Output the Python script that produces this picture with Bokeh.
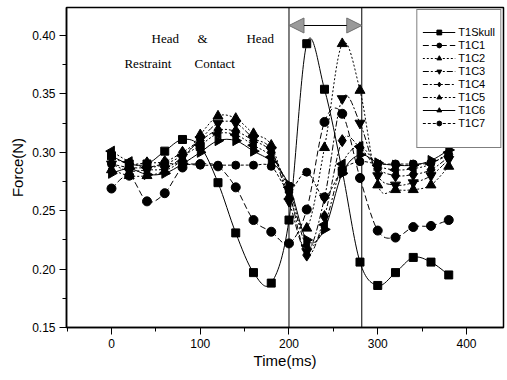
import numpy as np
from bokeh.plotting import figure
from bokeh.models import (Range1d, FixedTicker, PrintfTickFormatter, Span, Arrow,
                          NormalHead, Legend)
from bokeh.core.properties import value
from bokeh.embed import file_html
from bokeh.resources import INLINE

# ---------------- data ----------------
times = [0, 20, 40, 60, 80, 100, 120, 140, 160, 180, 200,
         220, 240, 260, 280, 300, 320, 340, 360, 380]

T1Skull = [0.297, 0.290, 0.290, 0.301, 0.311, 0.305, 0.274, 0.231, 0.197, 0.188, 0.242,
           0.393, 0.354, 0.284, 0.206, 0.186, 0.197, 0.210, 0.206, 0.195]
T1C1 = [0.269, 0.280, 0.258, 0.265, 0.287, 0.290, 0.288, 0.270, 0.242, 0.232, 0.222,
        0.251, 0.326, 0.333, 0.278, 0.233, 0.227, 0.236, 0.237, 0.242]
T1C2 = [0.285, 0.280, 0.280, 0.284, 0.294, 0.315, 0.331, 0.329, 0.316, 0.306, 0.262,
        0.235, 0.304, 0.393, 0.353, 0.272, 0.268, 0.268, 0.272, 0.288]
T1C3 = [0.290, 0.284, 0.285, 0.286, 0.296, 0.311, 0.325, 0.325, 0.312, 0.302, 0.258,
        0.215, 0.261, 0.346, 0.325, 0.280, 0.272, 0.274, 0.280, 0.294]
T1C4 = [0.296, 0.290, 0.291, 0.292, 0.300, 0.310, 0.319, 0.318, 0.310, 0.300, 0.266,
        0.212, 0.245, 0.310, 0.304, 0.286, 0.280, 0.281, 0.285, 0.296]
T1C5 = [0.301, 0.292, 0.287, 0.290, 0.297, 0.306, 0.316, 0.315, 0.306, 0.296, 0.270,
        0.220, 0.238, 0.290, 0.305, 0.289, 0.285, 0.286, 0.290, 0.300]
T1C6 = [0.282, 0.286, 0.281, 0.282, 0.290, 0.300, 0.310, 0.310, 0.301, 0.292, 0.272,
        0.225, 0.234, 0.282, 0.298, 0.291, 0.289, 0.289, 0.293, 0.302]
T1C7 = [0.290, 0.287, 0.287, 0.290, 0.290, 0.289, 0.289, 0.289, 0.289, 0.288, 0.268,
        0.283, 0.262, 0.285, 0.292, 0.290, 0.290, 0.290, 0.291, 0.298]

series_names = ["T1Skull", "T1C1", "T1C2", "T1C3", "T1C4", "T1C5", "T1C6", "T1C7"]
series_vals = [T1Skull, T1C1, T1C2, T1C3, T1C4, T1C5, T1C6, T1C7]

x_ticks = [0, 100, 200, 300, 400]
x_minor = [-50, 50, 150, 250, 350]
y_ticks = [0.15, 0.20, 0.25, 0.30, 0.35, 0.40]
y_minor = [0.175, 0.225, 0.275, 0.325, 0.375]

contact_start = 200
contact_end = 282

# ---------------- styles ----------------
styles = {
    "T1Skull": dict(marker="square", size=8, angle=0.0, dash="solid"),
    "T1C1": dict(marker="circle", size=9, angle=0.0, dash="6 3"),
    "T1C2": dict(marker="triangle", size=10, angle=0.0, dash="2 2"),
    "T1C3": dict(marker="inverted_triangle", size=10, angle=0.0, dash="6 2 2 2"),
    "T1C4": dict(marker="diamond", size=12, angle=0.0, dash="5 2 2 2"),
    "T1C5": dict(marker="triangle", size=10, angle=np.pi / 2, dash="5 2 2 2 2 2"),
    "T1C6": dict(marker="triangle", size=10, angle=-np.pi / 2, dash="solid"),
    "T1C7": dict(marker="circle", size=8, angle=0.0, dash="3 2"),
}

p = figure(width=505, height=372, output_backend="svg", toolbar_location=None,
           x_range=Range1d(-50.7, 441.7), y_range=Range1d(0.15, 0.424),
           min_border_left=66, min_border_right=2, min_border_top=7,
           min_border_bottom=45)
p.xgrid.visible = False
p.ygrid.visible = False
p.outline_line_color = "black"
p.outline_line_width = 1.5
p.background_fill_color = "white"
p.border_fill_color = "white"

FONT = "Liberation Sans"

for ax in (p.xaxis, p.yaxis):
    ax.axis_line_width = 1.5
    ax.axis_line_color = "black"
    ax.major_tick_line_color = "black"
    ax.minor_tick_line_color = "black"
    ax.major_tick_out = 7
    ax.major_tick_in = 0
    ax.minor_tick_out = 4
    ax.minor_tick_in = 0
    ax.major_label_text_font = FONT
    ax.major_label_text_font_size = "12px"
    ax.major_label_text_color = "black"
    ax.axis_label_text_font = FONT
    ax.axis_label_text_font_size = "15px"
    ax.axis_label_text_font_style = "normal"
    ax.axis_label_text_color = "black"
    ax.major_label_standoff = 4

p.xaxis.ticker = FixedTicker(ticks=x_ticks, minor_ticks=x_minor)
p.yaxis.ticker = FixedTicker(ticks=y_ticks, minor_ticks=y_minor)
p.yaxis.formatter = PrintfTickFormatter(format="%.2f")
p.xaxis.axis_label = "Time(ms)"
p.yaxis.axis_label = "Force(N)"
p.xaxis.axis_label_standoff = 1
p.yaxis.axis_label_standoff = 3

# contact window lines
for loc in (contact_start, contact_end):
    p.add_layout(Span(location=loc, dimension="height", line_color="black",
                      line_width=1))

# smooth curves through the data (Catmull-Rom as cubic beziers)
legend_items = []
for name, vals in zip(series_names, series_vals):
    st = styles[name]
    x = np.array(times, dtype=float)
    y = np.array(vals, dtype=float)
    n = len(x)
    i0 = np.arange(n - 1)
    i1 = i0 + 1
    im1 = np.clip(i0 - 1, 0, n - 1)
    ip2 = np.clip(i0 + 2, 0, n - 1)
    cx0 = x[i0] + (x[i1] - x[im1]) / 6.0
    cy0 = y[i0] + (y[i1] - y[im1]) / 6.0
    cx1 = x[i1] - (x[ip2] - x[i0]) / 6.0
    cy1 = y[i1] - (y[ip2] - y[i0]) / 6.0
    p.bezier(x0=x[i0], y0=y[i0], x1=x[i1], y1=y[i1], cx0=cx0, cy0=cy0,
             cx1=cx1, cy1=cy1, line_color="black", line_width=1,
             line_dash=st["dash"])
    # single-point line: invisible in the plot, provides the legend's line sample
    lr = p.line(x=times[:1], y=vals[:1], line_color="black", line_width=1,
                line_dash=st["dash"])
    sr = p.scatter(x=times, y=vals, marker=st["marker"], size=st["size"],
                   angle=st["angle"], fill_color="black", line_color="black")
    legend_items.append((name, [lr, sr]))

# transparent spacer entry that reproduces the empty space at the legend's bottom
spacer = p.scatter(x=times[:1], y=T1Skull[:1], size=1, fill_alpha=0, line_alpha=0)
legend_items.append((" ", [spacer]))

legend = Legend(items=legend_items, location="top_right")
legend.title = " "
legend.title_text_font_size = "8px"
legend.title_standoff = 2
legend.label_text_font = FONT
legend.label_text_font_size = "11px"
legend.label_text_color = "black"
legend.glyph_width = 33
legend.glyph_height = 12
legend.label_height = 12
legend.label_standoff = 3
legend.spacing = 1
legend.padding = 5
legend.margin = 2
legend.border_line_color = "black"
legend.border_line_width = 1
legend.background_fill_color = "white"
legend.background_fill_alpha = 1.0
p.add_layout(legend)

# arrow marking the contact window
p.add_layout(Arrow(start=NormalHead(size=15, fill_color="#9a9a9a", line_color="#707070"),
                   end=NormalHead(size=15, fill_color="#9a9a9a", line_color="#707070"),
                   x_start=contact_start, y_start=0.4086,
                   x_end=contact_end, y_end=0.4086,
                   line_color="black", line_width=1))

# annotation text
SERIF = value("Liberation Serif")
p.text(x=[45.1, 96.9, 152.1], y=[0.3974, 0.3974, 0.3974], text=["Head", "&", "Head"],
       text_font=SERIF, text_font_size="13px", text_baseline="middle",
       text_align="left", text_color="black")
p.text(x=[14.6, 93.5], y=[0.376, 0.376], text=["Restraint", "Contact"],
       text_font=SERIF, text_font_size="13px", text_baseline="middle",
       text_align="left", text_color="black")

open("out.html", "w").write(file_html(p, INLINE))
